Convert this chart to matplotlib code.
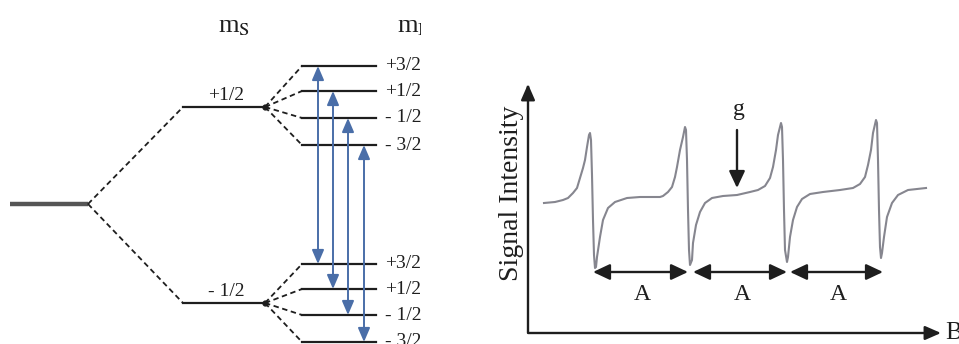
import matplotlib
matplotlib.use("Agg")
import matplotlib.pyplot as plt

plt.rcParams['font.family'] = ['Liberation Serif', 'DejaVu Serif']
plt.rcParams['mathtext.fontset'] = 'stix'

# energy level diagram (pixel-like units, y grows downward)
ms_labels = ['+1/2', '- 1/2']
ms_levels = [107, 303]
mi_labels = ['+3/2', '+1/2', '- 1/2', '- 3/2']
mi_upper = [66, 91, 118, 145]
mi_lower = [264, 289, 315, 342]
transition_x = [318, 333, 348, 364]

# EPR spectrum (four hyperfine lines)
field = [544, 555, 563, 568, 573, 577, 580, 583, 585, 587, 589, 590, 591, 592, 593,
         594, 595, 596, 597, 600, 603, 608, 615, 627, 640,
         650, 660, 663, 668, 672, 675, 677, 680, 683, 685, 686, 687, 688, 689, 690,
         692, 693, 696, 700, 705, 712, 723, 737,
         750, 758, 765, 770, 773, 776, 778, 781, 782, 783, 784, 785, 787, 788, 790,
         793, 797, 802, 810, 823,
         840, 853, 860, 865, 868, 871, 873, 876, 877, 878, 879, 880, 881, 882, 884,
         887, 892, 898, 908, 926]
signal = [203, 202, 200, 198, 193, 188, 178, 168, 160, 147, 135, 133, 140, 175, 220,
          255, 268, 267, 257, 237, 220, 208, 202, 198, 197,
          197, 197, 196, 192, 187, 177, 167, 150, 137, 127, 130, 160, 210, 250, 265,
          260, 243, 225, 212, 203, 198, 196, 195,
          192, 190, 186, 178, 167, 150, 135, 123, 127, 160, 210, 250, 262, 257, 237,
          220, 207, 199, 194, 192,
          190, 188, 184, 177, 165, 150, 133, 120, 123, 160, 210, 247, 258, 253, 237,
          217, 203, 195, 190, 188]
hyperfine_marks = [(593, 688), (693, 787), (790, 883)]
g_position = 737

INK = '#1e1e1e'
BLUE = '#4a6ea8'
CURVE = '#86868f'

fig = plt.figure(figsize=(9.59, 3.44), dpi=100)
axl = fig.add_axes([0, 0, 421 / 959, 1])
axl.set_xlim(0, 421)
axl.set_ylim(344, 0)
axl.axis('off')

# unsplit level and the two electron spin levels
axl.plot([10, 88], [204, 204], color='#555555', lw=3.2, solid_capstyle='butt')
dash = (0, (3, 2))
for y, lab in zip(ms_levels, ms_labels):
    axl.plot([88, 183], [204, y], color=INK, lw=1.3, ls=dash)
    axl.plot([183, 265], [y, y], color=INK, lw=1.6)
    axl.plot([265], [y], 'o', color=INK, ms=3.5)
    axl.text(226, y - 12, lab, ha='center', va='center', fontsize=14, color=INK)

for y0, levels in zip(ms_levels, [mi_upper, mi_lower]):
    for y, lab in zip(levels, mi_labels):
        axl.plot([265, 302], [y0, y], color=INK, lw=1.3, ls=dash)
        axl.plot([302, 376], [y, y], color=INK, lw=1.6)
        axl.text(385, y, lab, ha='left', va='center', fontsize=14, color=INK, clip_on=True)

for x, yt, yb in zip(transition_x, mi_upper, mi_lower):
    axl.annotate('', xy=(x, yt), xytext=(x, yb),
                 arrowprops=dict(arrowstyle='<|-|>,head_length=0.7,head_width=0.3',
                                 mutation_scale=12, color=BLUE, lw=1.4,
                                 shrinkA=0, shrinkB=0))

axl.text(218, 27, 'm$_\\mathrm{S}$', ha='left', va='center', fontsize=19, color=INK)
axl.text(397, 27, 'm$_\\mathrm{I}$', ha='left', va='center', fontsize=19, color=INK, clip_on=True)

# spectrum panel
axr = fig.add_axes([421 / 959, 0, 538 / 959, 1])
axr.set_xlim(421, 959)
axr.set_ylim(344, 0)
axr.axis('off')

axr.plot([528, 528, 930], [87, 333, 333], color=INK, lw=1.7)
axr.annotate('', xy=(528, 84), xytext=(528, 100),
             arrowprops=dict(arrowstyle='-|>,head_length=0.8,head_width=0.35',
                             mutation_scale=12, color=INK, lw=1.7, shrinkA=0, shrinkB=0))
axr.annotate('', xy=(941, 333), xytext=(925, 333),
             arrowprops=dict(arrowstyle='-|>,head_length=0.8,head_width=0.35',
                             mutation_scale=12, color=INK, lw=1.7, shrinkA=0, shrinkB=0))
axr.text(512, 193, 'Signal Intensity', rotation=90, ha='center', va='center',
         fontsize=20, color=INK)
axr.text(945, 333, 'B', ha='left', va='center', fontsize=18, color=INK, clip_on=True)

axr.plot(field, signal, color=CURVE, lw=1.5, solid_joinstyle='round')

for x0, x1 in hyperfine_marks:
    axr.annotate('', xy=(x0, 272), xytext=(x1, 272),
                 arrowprops=dict(arrowstyle='<|-|>,head_length=0.85,head_width=0.4',
                                 mutation_scale=12, color=INK, lw=1.7,
                                 shrinkA=0, shrinkB=0))
    axr.text((x0 + x1) / 2 + 2, 295, 'A', ha='center', va='center', fontsize=17, color=INK)

axr.annotate('', xy=(g_position, 188), xytext=(g_position, 130),
             arrowprops=dict(arrowstyle='-|>,head_length=0.85,head_width=0.4',
                             mutation_scale=12, color=INK, lw=1.7, shrinkA=0, shrinkB=0))
axr.text(g_position + 2, 110, 'g', ha='center', va='center', fontsize=17, color=INK)

fig.savefig('out.png', dpi=100)
